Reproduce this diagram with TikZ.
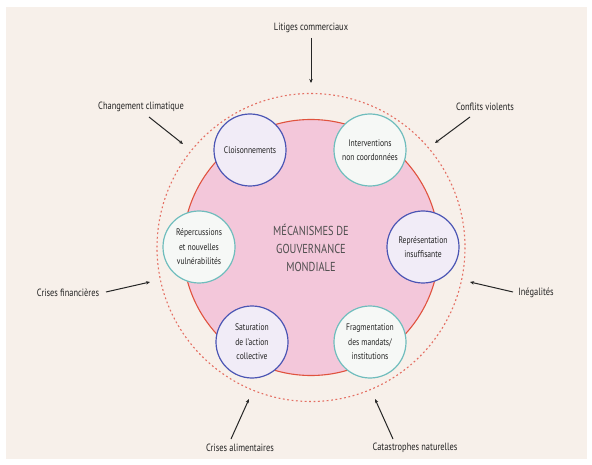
\documentclass[tikz,border=0pt]{standalone}
\usepackage{fontspec}
\setmainfont{PT Sans}[FakeStretch=0.8]
\usetikzlibrary{arrows.meta}
\definecolor{cream}{HTML}{F7F0EA}
\definecolor{pinkfill}{HTML}{F3C7DA}
\definecolor{pinkline}{HTML}{E0533F}
\definecolor{dotline}{HTML}{E46E62}
\definecolor{blueline}{HTML}{4B55B4}
\definecolor{bluefill}{HTML}{F1ECF7}
\definecolor{tealline}{HTML}{6FBDBD}
\definecolor{tealfill}{HTML}{F6F8F6}
\definecolor{txt}{HTML}{222222}
\tikzset{
  bubble/.style={circle, minimum size=72pt, inner sep=0pt, line width=1.2pt, align=center,
    text=txt, font=\fontsize{9.5}{14.5}\selectfont},
  bluebub/.style={bubble, draw=blueline, fill=bluefill},
  tealbub/.style={bubble, draw=tealline, fill=tealfill},
  lab/.style={text=txt, font=\fontsize{10.5}{12}\selectfont, inner sep=0pt},
  arr/.style={draw=black!85, line width=1pt, -{Stealth[length=4pt,width=3.5pt]}}
}
\begin{document}
\begin{tikzpicture}[x=1pt,y=-1pt]
\useasboundingbox (0,0) rectangle (592,465);
\fill[cream] (6,7) rectangle (587,459);
% central circles
\coordinate (ctr) at (311,247.5);
\draw[dotline, line width=1.1pt, dash pattern=on 1.8pt off 2.6pt] (ctr) circle[radius=154];
\node[circle, minimum size=256pt, inner sep=0pt, fill=pinkfill, draw=pinkline, line width=1.1pt] (core) at (ctr) {};
\node[text=txt!80, align=center, font=\fontsize{13}{18}\selectfont] (title) at (311,248) {MÉCANISMES DE\\GOUVERNANCE\\MONDIALE};
% bubbles
\node[bluebub] (clo) at (250,150) {Cloisonnements};
\node[tealbub] (int) at (370,150) {Interventions\\non coordonnées};
\node[tealbub] (rep) at (199,247) {Répercussions\\et nouvelles\\vulnérabilités};
\node[bluebub] (rpr) at (423,247) {Représentation\\insuffisante};
\node[bluebub] (sat) at (252,342) {Saturation\\de l’action\\collective};
\node[tealbub] (fra) at (370,342) {Fragmentation\\des mandats/\\institutions};
% outer labels
\node[lab] (lit) at (311,28) {Litiges commerciaux};
\node[lab] (chg) at (141,107) {Changement climatique};
\node[lab] (con) at (485,107) {Conflits violents};
\node[lab] (fin) at (68,293) {Crises financières};
\node[lab] (ine) at (536,293) {Inégalités};
\node[lab] (ali) at (240,448) {Crises alimentaires};
\node[lab] (cat) at (415,448) {Catastrophes naturelles};
% arrow coordinates
\coordinate (litA) at (311,38);  \coordinate (litB) at (311,83);
\coordinate (chgA) at (149,117); \coordinate (chgB) at (183,144);
\coordinate (conA) at (470,117); \coordinate (conB) at (435,143);
\coordinate (finA) at (106,292); \coordinate (finB) at (150,282);
\coordinate (ineA) at (513,292); \coordinate (ineB) at (470,282);
\coordinate (aliA) at (231,439); \coordinate (aliB) at (249,399);
\coordinate (catA) at (393,439); \coordinate (catB) at (375,399);
\draw[arr] (litA) -- (litB);
\draw[arr] (chgA) -- (chgB);
\draw[arr] (conA) -- (conB);
\draw[arr] (finA) -- (finB);
\draw[arr] (ineA) -- (ineB);
\draw[arr] (aliA) -- (aliB);
\draw[arr] (catA) -- (catB);
\end{tikzpicture}
\end{document}
